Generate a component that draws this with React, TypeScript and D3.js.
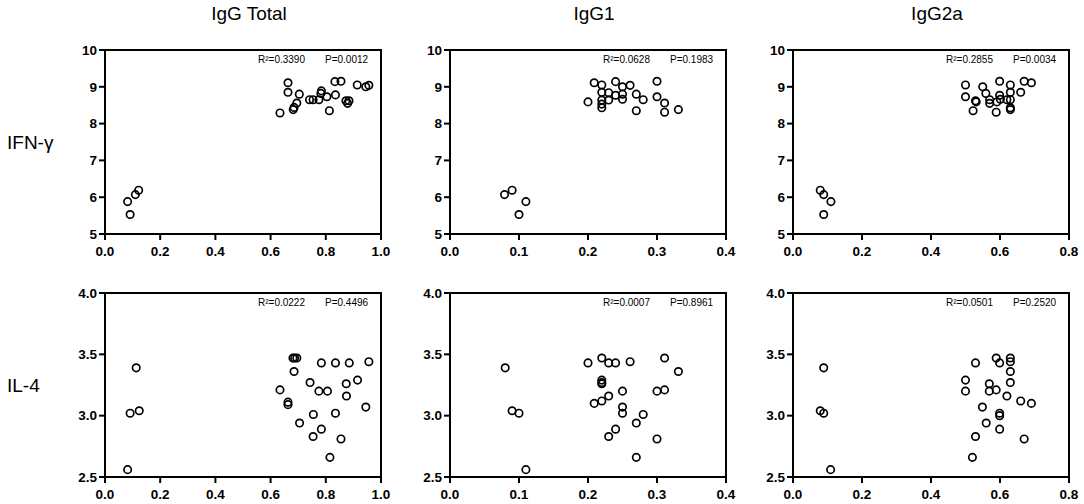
import React from 'react';
import * as d3 from 'd3';

// column titles and row labels
const columns = ['IgG Total', 'IgG1', 'IgG2a'];
const rows = ['IFN-γ', 'IL-4'];

const xMax = [1.0, 0.4, 0.8];
const xStep = [0.2, 0.1, 0.2];
const yDomains = [[5, 10], [2.5, 4.0]];
const yStep = [1, 0.5];

const stats = [
  [['R²=0.3390', 'P=0.0012'], ['R²=0.0628', 'P=0.1983'], ['R²=0.2855', 'P=0.0034']],
  [['R²=0.0222', 'P=0.4496'], ['R²=0.0007', 'P=0.8961'], ['R²=0.0501', 'P=0.2520']],
];

// IFN-γ vs IgG Total
const ifnTotal = [
  [0.082, 5.88], [0.091, 5.53], [0.11, 6.07], [0.122, 6.19], [0.634, 8.29], [0.663, 9.11],
  [0.663, 8.85], [0.682, 8.38], [0.685, 8.44], [0.695, 8.56], [0.704, 8.8], [0.741, 8.65],
  [0.754, 8.65], [0.775, 8.65], [0.782, 8.82], [0.784, 8.89], [0.804, 8.73], [0.813, 8.35],
  [0.833, 9.14], [0.835, 8.78], [0.855, 9.15], [0.873, 8.62], [0.879, 8.55], [0.884, 8.62],
  [0.914, 9.05], [0.945, 9.0], [0.956, 9.04],
];
// IFN-γ vs IgG1
const ifnG1 = [
  [0.079, 6.07], [0.09, 6.19], [0.1, 5.53], [0.11, 5.88], [0.2, 8.59], [0.209, 9.11],
  [0.22, 9.05], [0.22, 8.85], [0.22, 8.64], [0.22, 8.53], [0.22, 8.43], [0.23, 8.84],
  [0.23, 8.64], [0.24, 9.14], [0.24, 8.77], [0.25, 9.0], [0.25, 8.8], [0.25, 8.66],
  [0.261, 9.04], [0.27, 8.8], [0.27, 8.35], [0.28, 8.65], [0.3, 9.15], [0.3, 8.73],
  [0.311, 8.56], [0.311, 8.31], [0.331, 8.38],
];
// IFN-γ vs IgG2a
const ifnG2a = [
  [0.079, 6.19], [0.089, 6.07], [0.089, 5.53], [0.11, 5.88], [0.5, 9.05], [0.5, 8.73],
  [0.522, 8.35], [0.529, 8.62], [0.531, 8.59], [0.55, 9.0], [0.559, 8.82], [0.57, 8.65],
  [0.57, 8.55], [0.589, 8.31], [0.591, 8.59], [0.599, 9.15], [0.599, 8.77], [0.601, 8.66],
  [0.62, 8.65], [0.63, 9.05], [0.63, 8.85], [0.63, 8.65], [0.63, 8.43], [0.63, 8.38],
  [0.66, 8.85], [0.67, 9.15], [0.691, 9.11],
];
// IL-4 vs IgG Total
const il4Total = [
  [0.082, 2.56], [0.091, 3.02], [0.113, 3.39], [0.124, 3.04], [0.634, 3.21], [0.663, 3.11],
  [0.663, 3.09], [0.681, 3.47], [0.687, 3.47], [0.695, 3.47], [0.685, 3.36], [0.705, 2.94],
  [0.743, 3.27], [0.755, 3.01], [0.754, 2.83], [0.775, 3.2], [0.784, 2.89], [0.784, 3.43],
  [0.806, 3.2], [0.815, 2.66], [0.835, 3.02], [0.835, 3.43], [0.855, 2.81], [0.874, 3.26],
  [0.875, 3.16], [0.885, 3.43], [0.915, 3.29], [0.945, 3.07], [0.956, 3.44],
];
// IL-4 vs IgG1
const il4G1 = [
  [0.08, 3.39], [0.09, 3.04], [0.1, 3.02], [0.11, 2.56], [0.2, 3.43], [0.209, 3.1],
  [0.22, 3.47], [0.22, 3.29], [0.22, 3.27], [0.22, 3.26], [0.22, 3.12], [0.23, 3.43],
  [0.23, 3.16], [0.23, 2.83], [0.24, 3.43], [0.24, 2.89], [0.25, 3.2], [0.25, 3.07],
  [0.25, 3.02], [0.261, 3.44], [0.27, 2.94], [0.27, 2.66], [0.28, 3.01], [0.3, 3.2],
  [0.3, 2.81], [0.311, 3.47], [0.311, 3.21], [0.331, 3.36],
];
// IL-4 vs IgG2a
const il4G2a = [
  [0.079, 3.04], [0.089, 3.39], [0.089, 3.02], [0.109, 2.56], [0.5, 3.29], [0.5, 3.2],
  [0.52, 2.66], [0.529, 3.43], [0.529, 2.83], [0.549, 3.07], [0.56, 2.94], [0.569, 3.26],
  [0.569, 3.2], [0.589, 3.47], [0.589, 3.21], [0.599, 3.43], [0.599, 3.02], [0.599, 3.0],
  [0.599, 2.89], [0.62, 3.16], [0.63, 3.47], [0.63, 3.44], [0.63, 3.36], [0.63, 3.27],
  [0.66, 3.12], [0.67, 2.81], [0.691, 3.1],
];

const panelData = [
  [ifnTotal, ifnG1, ifnG2a],
  [il4Total, il4G1, il4G2a],
];

const panelLeft = [105, 450, 793];
const panelWidth = 276;
const panelTop = [50, 293];
const panelHeight = 184;

const font = 'Arial, "Liberation Sans", sans-serif';

const Panel = ({ r, c }) => {
  const left = panelLeft[c];
  const top = panelTop[r];
  const x = d3.scaleLinear().domain([0, xMax[c]]).range([left, left + panelWidth]);
  const y = d3.scaleLinear().domain(yDomains[r]).range([top + panelHeight, top]);
  const xTicks = d3.range(0, xMax[c] + 1e-9, xStep[c]);
  const yTicks = d3.range(yDomains[r][0], yDomains[r][1] + 1e-9, yStep[r]);
  const xFmt = d3.format('.1f');
  const yFmt = r === 0 ? d3.format('d') : d3.format('.1f');
  const bottom = top + panelHeight;
  return (
    <g>
      {xTicks.map((t) => (
        <g key={'x' + t}>
          <line x1={x(t)} x2={x(t)} y1={bottom} y2={bottom + 6} stroke="#000" strokeWidth={2} />
          <text x={x(t)} y={bottom + 22} textAnchor="middle" fontSize={13.5} fontWeight="bold" fontFamily={font}>
            {xFmt(t)}
          </text>
        </g>
      ))}
      {yTicks.map((t) => (
        <g key={'y' + t}>
          <line x1={left - 6} x2={left} y1={y(t)} y2={y(t)} stroke="#000" strokeWidth={2} />
          <text x={left - 8} y={y(t)} dy="0.35em" textAnchor="end" fontSize={13.5} fontWeight="bold" fontFamily={font}>
            {yFmt(t)}
          </text>
        </g>
      ))}
      <rect x={left} y={top} width={panelWidth} height={panelHeight} fill="none" stroke="#000" strokeWidth={2} />
      {panelData[r][c].map((d, i) => (
        <circle key={i} cx={x(d[0])} cy={y(d[1])} r={3.7} fill="none" stroke="#000" strokeWidth={1.7} />
      ))}
      <text x={left + 153} y={top + 13} fontSize={10} fontFamily={font}>{stats[r][c][0]}</text>
      <text x={left + 220} y={top + 13} fontSize={10} fontFamily={font}>{stats[r][c][1]}</text>
    </g>
  );
};

export default function App() {
  return (
    <svg width={1084} height={504} style={{ position: 'absolute', left: 0, top: 0, background: '#fff' }}>
      {columns.map((name, c) => (
        <text key={name} x={panelLeft[c] + panelWidth / 2 + 6} y={20} textAnchor="middle" fontSize={19} fontFamily={font}>
          {name}
        </text>
      ))}
      {rows.map((name, r) => (
        <text key={name} x={7} y={panelTop[r] + panelHeight / 2 + 7} fontSize={19} fontFamily={font}>
          {name}
        </text>
      ))}
      {rows.map((_, r) => columns.map((__, c) => <Panel key={r + '-' + c} r={r} c={c} />))}
    </svg>
  );
}
